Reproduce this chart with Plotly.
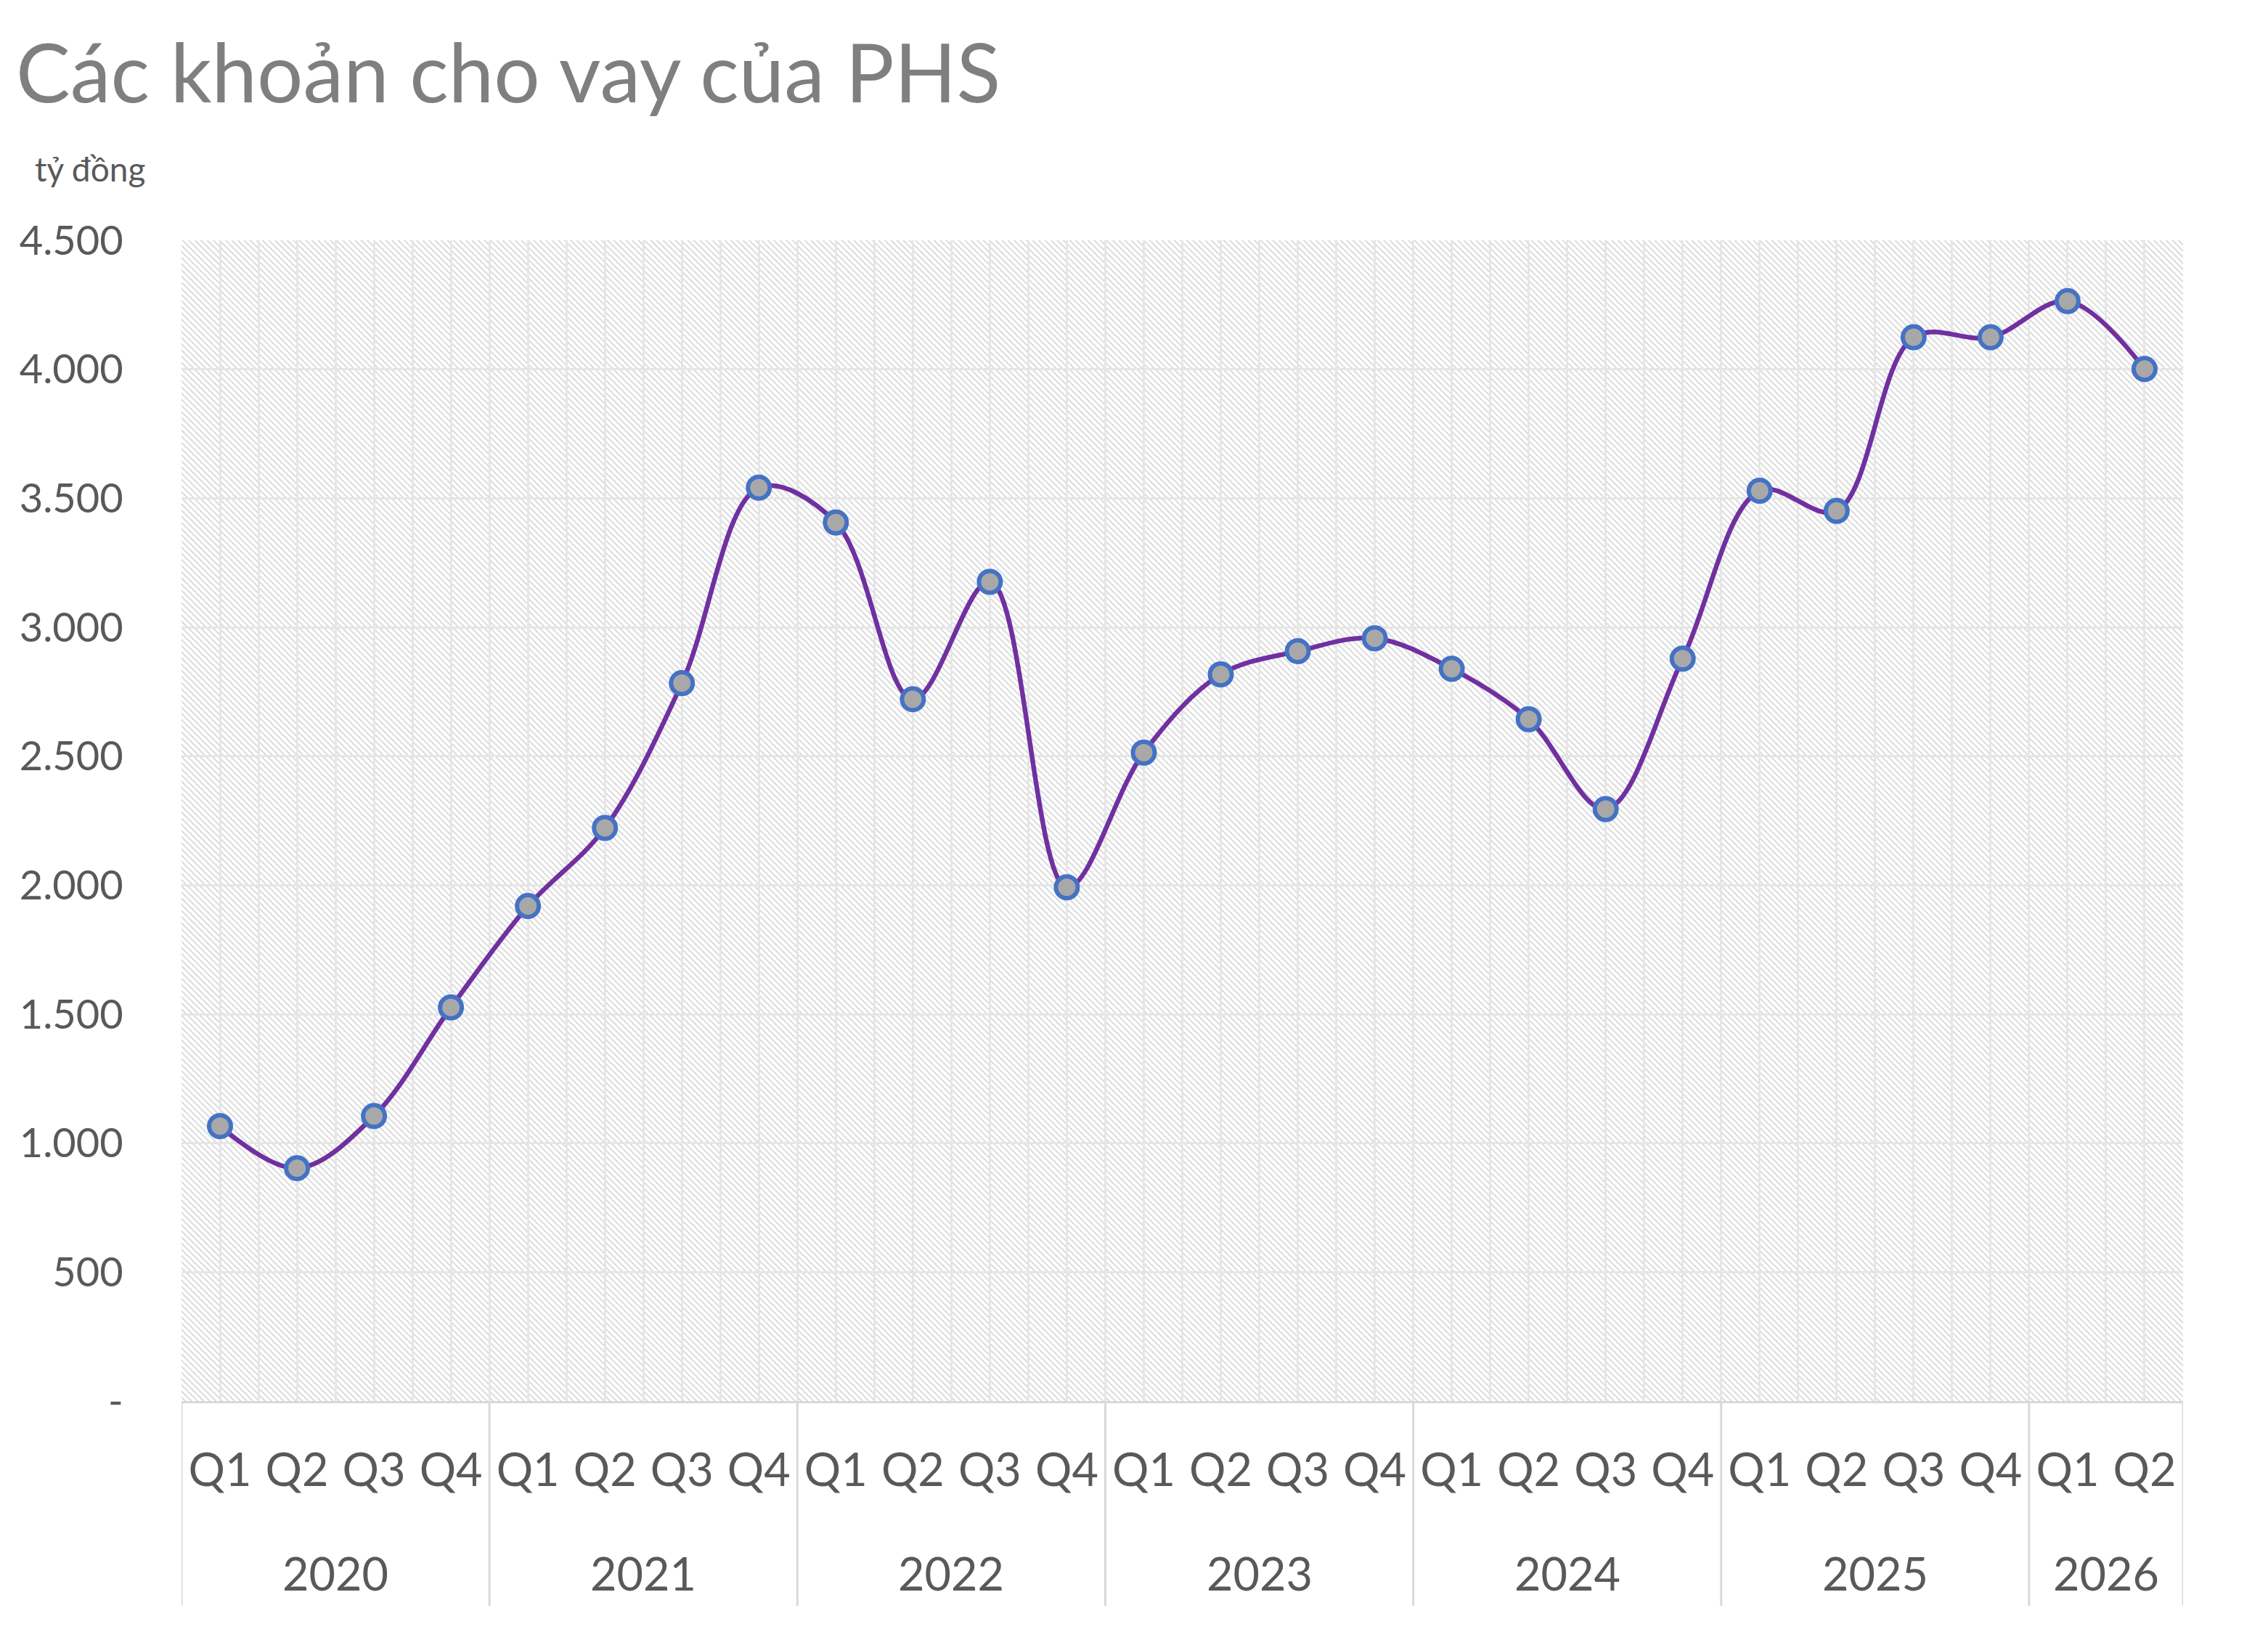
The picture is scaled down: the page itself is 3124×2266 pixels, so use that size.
import base64
import plotly.graph_objects as go

# ---------------- data ----------------
years = ["2020"] * 4 + ["2021"] * 4 + ["2022"] * 4 + ["2023"] * 4 + ["2024"] * 4 + ["2025"] * 4 + ["2026"] * 2
quarters = ["Q1", "Q2", "Q3", "Q4"] * 6 + ["Q1", "Q2"]
loans = [1066, 903, 1105, 1526,
         1919, 2222, 2783, 3541,
         3406, 2721, 3176, 1992,
         2514, 2817, 2907, 2957,
         2839, 2643, 2295, 2878,
         3529, 3451, 4124, 4124,
         4264, 4001]
y_ticks = [0, 500, 1000, 1500, 2000, 2500, 3000, 3500, 4000, 4500]
title_text = "Các khoản cho vay của PHS"
unit_text = "tỷ đồng"

# ---------------- layout constants ----------------
W, H = 3124, 2266
ML, MR, MT, MB = 242, 125, 323, 344
PW, PH = W - ML - MR, H - MT - MB
FONT = "Lato, 'Open Sans', sans-serif"
TXT = "#595959"
GRID = "#e6e6e6"

xs = list(range(len(loans)))


def fmt(v):
    if v == 0:
        return "-"
    return f"{v:,}".replace(",", ".")


# hatched plot background (Excel "wide downward diagonal" pattern)
svg = (
    f'<svg xmlns="http://www.w3.org/2000/svg" width="{PW}" height="{PH}" '
    f'viewBox="0 0 {PW} {PH}" preserveAspectRatio="none">'
    '<defs><pattern id="p" width="6" height="6" patternUnits="userSpaceOnUse" '
    'patternTransform="rotate(-45)">'
    '<rect width="6" height="6" fill="#ffffff"/>'
    '<rect width="2" height="6" fill="#dbdbdb"/></pattern></defs>'
    '<rect width="100%" height="100%" fill="url(#p)"/></svg>'
)
svg_uri = "data:image/svg+xml;base64," + base64.b64encode(svg.encode()).decode()

fig = go.Figure()
fig.add_trace(go.Scatter(
    x=xs, y=loans, mode="lines+markers",
    line=dict(color="#7030A0", width=6.5, shape="spline", smoothing=1.0),
    marker=dict(size=30, color="#A9A8A9", line=dict(color="#4472C4", width=6)),
    hoverinfo="skip", showlegend=False,
))

# year group boundaries and centres
groups = []
start = 0
for i in range(1, len(years) + 1):
    if i == len(years) or years[i] != years[start]:
        groups.append((years[start], start, i - 1))
        start = i

shapes = []
annotations = []
div_depth = 282 / PH
for k, (yr, a, b) in enumerate(groups):
    annotations.append(dict(
        x=(a + b) / 2, y=-236 / PH, xref="x", yref="paper", text=yr,
        showarrow=False, xanchor="center", yanchor="middle",
        font=dict(family=FONT, size=63, color=TXT)))
    for bx in ([a - 0.5] if k == 0 else []) + [b + 0.5]:
        shapes.append(dict(type="line", xref="x", yref="paper", x0=bx, x1=bx,
                           y0=0, y1=-div_depth, line=dict(color="#d9d9d9", width=3),
                           layer="below"))

# unit label (positioned in figure pixels, converted to paper coordinates)
annotations.append(dict(
    x=(38 - ML) / PW, y=1 + (MT - 225) / PH, xref="paper", yref="paper",
    text=unit_text, showarrow=False, xanchor="left", yanchor="middle",
    font=dict(family=FONT, size=46, color=TXT)))

fig.update_layout(
    width=W, height=H,
    margin=dict(l=ML, r=MR, t=MT, b=MB, pad=0),
    paper_bgcolor="white", plot_bgcolor="rgba(0,0,0,0)",
    title=dict(text=title_text, x=14 / W, xanchor="left", xref="container",
               y=1 - 94 / H, yanchor="middle", yref="container",
               font=dict(family=FONT, size=112, color="#7f7f7f")),
    images=[dict(source=svg_uri, xref="paper", yref="paper", x=0, y=1,
                 sizex=1, sizey=1, sizing="stretch", xanchor="left",
                 yanchor="top", layer="below")],
    shapes=shapes, annotations=annotations,
    xaxis=dict(
        range=[-0.5, len(loans) - 0.5],
        tickmode="array", tickvals=xs, ticktext=quarters,
        tickfont=dict(family=FONT, size=63, color=TXT),
        ticks="outside", ticklen=38, tickcolor="rgba(0,0,0,0)",
        showgrid=True, gridcolor=GRID, gridwidth=3,
        minor=dict(tickvals=[i - 0.5 for i in range(len(loans) + 1)],
                   showgrid=True, gridcolor=GRID, gridwidth=3, ticks=""),
        showline=True, linecolor="#d9d9d9", linewidth=3,
        zeroline=False, fixedrange=True,
    ),
    yaxis=dict(
        range=[0, y_ticks[-1]],
        tickmode="array", tickvals=y_ticks, ticktext=[fmt(v) for v in y_ticks],
        tickfont=dict(family=FONT, size=56, color=TXT),
        ticks="outside", ticklen=68, tickcolor="rgba(0,0,0,0)",
        showgrid=True, gridcolor=GRID, gridwidth=3,
        showline=False, zeroline=False, fixedrange=True,
    ),
)

fig.write_html("out.html")
